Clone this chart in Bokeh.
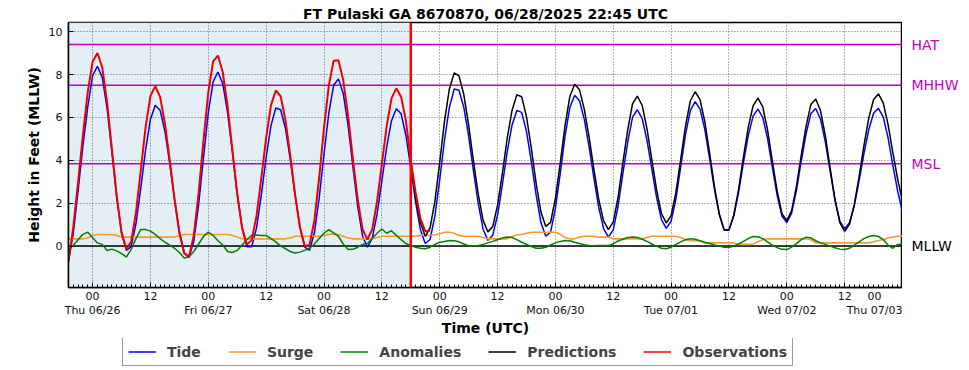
from bokeh.plotting import figure
from bokeh.layouts import row, column
from bokeh.models import (FixedTicker, Span, BoxAnnotation, Label, Legend, LegendItem, Range1d)
from bokeh.embed import file_html
from bokeh.resources import INLINE

# ---------------- data (hours from Thu 06/26 00:00 UTC, hourly) ----------------
START_HOUR = -5          # first sample: Wed 06/25 19:00 UTC
PRED_START = 66          # predictions start (forecast time, Sat 06/28 18:00)
NOW_HOUR = 66            # red vertical line
X_END = 168              # Thu 07/03 00:00
Y_MIN, Y_MAX = -1.93, 10.43

tide = [
    -0.65, 0.60, 2.60, 4.70, 6.50,
    7.95, 8.39, 7.87, 6.42, 4.39, 2.29, 0.61, -0.20, -0.02, 1.05, 2.72, 4.50,
    5.92, 6.57, 6.34, 5.35, 3.86, 2.17, 0.68, -0.30, -0.53, 0.24, 1.94, 4.12,
    6.22, 7.67, 8.12, 7.58, 6.23, 4.38, 2.45, 0.88, -0.03, -0.03, 0.85, 2.39,
    4.14, 5.62, 6.44, 6.36, 5.50, 4.04, 2.38, 0.90, -0.05, -0.20, 0.61, 2.25,
    4.30, 6.21, 7.50, 7.80, 7.11, 5.62, 3.69, 1.84, 0.46, -0.05, 0.36, 1.48,
    3.03, 4.62, 5.85, 6.41, 6.17, 5.16, 3.66, 2.05, 0.76, 0.12, 0.31, 1.40,
    3.09, 4.95, 6.46, 7.33, 7.27, 6.47, 5.14, 3.51, 1.98, 0.79, 0.27, 0.51,
    1.45, 2.87, 4.40, 5.64, 6.33, 6.24, 5.35, 3.95, 2.39, 1.10, 0.46, 0.65,
    1.75, 3.38, 5.13, 6.47, 7.04, 6.78, 5.90, 4.62, 3.15, 1.79, 0.82, 0.42,
    0.76, 1.86, 3.39, 4.85, 6.02, 6.36, 5.95, 4.93, 3.60, 2.26, 1.24, 0.83,
    1.16, 2.21, 3.71, 5.22, 6.33, 6.74, 6.39, 5.43, 4.07, 2.63, 1.47, 0.76,
    0.77, 1.40, 2.51, 3.88, 5.14, 6.06, 6.39, 6.02, 5.03, 3.68, 2.37, 1.40,
    1.10, 1.54, 2.60, 3.97, 5.24, 6.19, 6.42, 5.92, 4.85, 3.47, 2.15, 1.17,
    0.80, 1.09, 1.89, 3.05, 4.31, 5.43, 6.20, 6.43, 6.03, 5.06, 3.77, 2.57,
    1.59,
]

surge = [
    0.34, 0.34, 0.34, 0.34, 0.38,
    0.50, 0.54, 0.54, 0.54, 0.54, 0.50, 0.42, 0.42, 0.42, 0.42, 0.42, 0.42,
    0.42, 0.42, 0.42, 0.42, 0.42, 0.42, 0.50, 0.54, 0.54, 0.54, 0.54, 0.54,
    0.54, 0.54, 0.54, 0.54, 0.54, 0.50, 0.42, 0.34, 0.34, 0.34, 0.34, 0.34,
    0.34, 0.34, 0.34, 0.34, 0.34, 0.38, 0.46, 0.46, 0.46, 0.46, 0.46, 0.46,
    0.50, 0.54, 0.57, 0.54, 0.46, 0.38, 0.34, 0.34, 0.34, 0.34, 0.34, 0.40,
    0.46, 0.46, 0.46, 0.46, 0.46, 0.46, 0.46, 0.46, 0.50, 0.52, 0.52, 0.52,
    0.58, 0.65, 0.65, 0.60, 0.50, 0.46, 0.46, 0.46, 0.46, 0.40, 0.34, 0.34,
    0.34, 0.34, 0.34, 0.45, 0.52, 0.55, 0.60, 0.65, 0.65, 0.65, 0.65, 0.65,
    0.65, 0.55, 0.40, 0.34, 0.34, 0.42, 0.46, 0.46, 0.46, 0.42, 0.42, 0.42,
    0.34, 0.34, 0.34, 0.34, 0.34, 0.34, 0.34, 0.40, 0.46, 0.46, 0.46, 0.46,
    0.46, 0.46, 0.40, 0.30, 0.25, 0.25, 0.25, 0.15, 0.15, 0.15, 0.15, 0.15,
    0.15, 0.15, 0.08, 0.08, 0.08, 0.10, 0.20, 0.30, 0.34, 0.34, 0.34, 0.34,
    0.34, 0.34, 0.34, 0.34, 0.34, 0.30, 0.15, 0.15, 0.15, 0.15, 0.15, 0.15,
    0.15, 0.15, 0.15, 0.15, 0.15, 0.15, 0.20, 0.26, 0.30, 0.38, 0.42, 0.46,
    0.46,
]

anomalies = [
    -0.20, 0.05, 0.30, 0.55, 0.65,
    0.40, 0.15, 0.08, -0.20, -0.14, -0.22, -0.35, -0.51, -0.15, 0.35, 0.78, 0.77,
    0.70, 0.55, 0.35, 0.18, 0.05, -0.10, -0.30, -0.55, -0.50, -0.25, 0.10, 0.45,
    0.65, 0.50, 0.25, 0.05, -0.25, -0.30, -0.20, 0.05, 0.30, 0.50, 0.52, 0.50,
    0.50, 0.35, 0.20, 0.00, -0.12, -0.25, -0.32, -0.28, -0.20, -0.10, 0.10, 0.35,
    0.60, 0.77, 0.62, 0.45, 0.10, -0.16, -0.15, -0.05, 0.08, 0.12, 0.35, 0.60,
    0.80, 0.60, 0.72, 0.50, 0.30, 0.12, 0.03, -0.05, -0.10, -0.12, -0.05, 0.08,
    0.18, 0.22, 0.26, 0.25, 0.20, 0.10, 0.02, 0.00, 0.03, 0.08, 0.15, 0.22,
    0.30, 0.38, 0.43, 0.40, 0.30, 0.18, 0.08, -0.02, -0.10, -0.10, -0.05, 0.05,
    0.15, 0.22, 0.26, 0.25, 0.18, 0.12, 0.06, 0.03, 0.02, 0.03, 0.03, 0.03,
    0.10, 0.24, 0.32, 0.40, 0.43, 0.40, 0.32, 0.22, 0.10, 0.00, -0.10, -0.12,
    -0.05, 0.08, 0.20, 0.30, 0.34, 0.32, 0.25, 0.18, 0.12, 0.05, 0.00, -0.05,
    -0.06, 0.00, 0.10, 0.22, 0.35, 0.45, 0.44, 0.35, 0.20, 0.05, -0.07, -0.15,
    -0.16, -0.05, 0.12, 0.30, 0.42, 0.38, 0.25, 0.15, 0.08, 0.00, -0.08, -0.14,
    -0.16, -0.10, 0.05, 0.20, 0.35, 0.45, 0.50, 0.45, 0.30, 0.05, -0.10, 0.08,
    0.09,
]

observations = [
    -0.74, 0.90, 3.00, 5.20, 7.20,
    8.60, 9.01, 8.34, 6.72, 4.54, 2.33, 0.64, -0.13, 0.21, 1.57, 3.55, 5.56,
    7.01, 7.46, 6.96, 5.73, 4.01, 2.18, 0.62, -0.34, -0.49, 0.51, 2.48, 4.93,
    7.17, 8.62, 8.89, 8.11, 6.53, 4.48, 2.43, 0.86, 0.07, 0.28, 1.41, 3.18,
    5.06, 6.57, 7.26, 6.99, 5.88, 4.23, 2.41, 0.89, 0.01, 0.05, 1.20, 3.19,
    5.51, 7.50, 8.65, 8.67, 7.72, 6.08, 4.05, 2.16, 0.79, 0.31, 0.78, 2.07,
    3.83, 5.60, 6.89, 7.36, 6.96, 5.83, 4.00, 2.50, 1.30, 0.69, 0.72,
]

predictions = [
    3.96, 2.27, 1.10, 0.46, 0.85, 2.09,
    3.91, 5.83, 7.32, 8.08, 7.94, 7.07, 5.65, 3.97, 2.42, 1.20, 0.66, 0.91,
    1.91, 3.40, 5.02, 6.33, 7.06, 6.97, 6.04, 4.58, 2.94, 1.59, 0.92, 1.11,
    2.22, 3.87, 5.62, 6.98, 7.55, 7.29, 6.38, 5.07, 3.56, 2.17, 1.18, 0.77,
    1.13, 2.28, 3.89, 5.42, 6.64, 7.00, 6.56, 5.47, 4.04, 2.61, 1.52, 1.08,
    1.42, 2.51, 4.06, 5.62, 6.78, 7.20, 6.83, 5.79, 4.32, 2.76, 1.50, 0.74,
    0.74, 1.44, 2.65, 4.15, 5.54, 6.54, 6.90, 6.51, 5.43, 3.97, 2.56, 1.51,
    1.19, 1.66, 2.79, 4.25, 5.60, 6.61, 6.86, 6.31, 5.14, 3.63, 2.17, 1.09,
    0.69, 1.02, 1.93, 3.25, 4.69, 5.97, 6.84, 7.10, 6.68, 5.68, 4.36, 3.12,
    2.11,
]

datum_names = ["HAT", "MHHW", "MSL", "MLLW"]
datum_values = [9.40, 7.50, 3.84, 0.00]
datum_colors = ["#bf00bf", "#bf00bf", "#bf00bf", "#000000"]

x_tick_hours = [0, 12, 24, 36, 48, 60, 72, 84, 96, 108, 120, 132, 144, 156, 168]
x_tick_labels = ["00\nThu 06/26", "12", "00\nFri 06/27", "12", "00\nSat 06/28", "12",
                 "00\nSun 06/29", "12", "00\nMon 06/30", "12", "00\nTue 07/01", "12",
                 "00\nWed 07/02", "12", "00\nThu 07/03"]
y_ticks = [0, 2, 4, 6, 8, 10]

series_names = ["Tide", "Surge", "Anomalies", "Predictions", "Observations"]
series_colors = ["#0000ff", "#f39a30", "#008000", "#000000", "#ee0000"]

title_text = "FT Pulaski GA 8670870, 06/28/2025 22:45 UTC"

# ---------------- layout constants ----------------
FONT = "DejaVu Sans"
TOP, BOTTOM, LEFT = 22, 49, 68
MAIN_W, MAIN_H = 902, 338
RIGHT_W = 66
LEG_H = 31

hours_all = list(range(START_HOUR, START_HOUR + len(tide)))
obs_hours = list(range(START_HOUR, START_HOUR + len(observations)))
pred_hours = list(range(PRED_START, PRED_START + len(predictions)))


def style_title(fig, text):
    fig.title.text = text
    fig.title.align = "center"
    fig.title.text_font = FONT
    fig.title.text_font_size = "14px"
    fig.title.text_font_style = "bold"
    fig.title.text_color = "black"
    fig.title.standoff = 1


# ---------------- main figure ----------------
p = figure(width=MAIN_W, height=MAIN_H, output_backend="svg", toolbar_location=None,
           x_range=Range1d(START_HOUR, X_END), y_range=Range1d(Y_MIN, Y_MAX),
           min_border_left=LEFT, min_border_right=0, min_border_top=TOP,
           min_border_bottom=BOTTOM)
style_title(p, title_text)
p.outline_line_color = "black"
p.outline_line_width = 1.5
p.background_fill_color = "white"
p.border_fill_color = "white"

p.add_layout(BoxAnnotation(left=START_HOUR, right=NOW_HOUR, fill_color="#e4eef5",
                           fill_alpha=1.0, line_alpha=0, level="image"))

p.xaxis.ticker = FixedTicker(ticks=x_tick_hours, minor_ticks=hours_all)
p.xaxis.major_label_overrides = {h: lab for h, lab in zip(x_tick_hours, x_tick_labels)}
p.yaxis.ticker = FixedTicker(ticks=y_ticks, minor_ticks=[])
for ax in (p.xaxis[0], p.yaxis[0]):
    ax.major_tick_in = 5
    ax.major_tick_out = 0
    ax.minor_tick_in = 3
    ax.minor_tick_out = 0
    ax.axis_line_color = "black"
    ax.axis_line_width = 1.5
    ax.major_tick_line_color = "black"
    ax.minor_tick_line_color = "black"
    ax.major_label_text_font = FONT
    ax.major_label_text_font_size = "11px"
    ax.major_label_text_line_height = 1.1
    ax.major_label_text_color = "#111111"
    ax.axis_label_text_font = FONT
    ax.axis_label_text_font_size = "14px"
    ax.axis_label_text_font_style = "bold"
    ax.axis_label_text_color = "black"
p.xaxis.axis_label = "Time (UTC)"
p.yaxis.axis_label = "Height in Feet (MLLW)"
p.xaxis.major_label_standoff = 2
p.xaxis.axis_label_standoff = 0
p.yaxis.major_label_standoff = 6
p.yaxis.axis_label_standoff = 4

for g in (p.xgrid[0], p.ygrid[0]):
    g.grid_line_color = "#666666"
    g.grid_line_dash = "1 2"
    g.grid_line_width = 1

for v, c in zip(datum_values, datum_colors):
    p.add_layout(Span(location=v, dimension="width", line_color=c, line_width=1.5,
                      level="underlay"))

p.line(hours_all, tide, line_color=series_colors[0], line_width=1.5)
p.line(hours_all, surge, line_color=series_colors[1], line_width=1.6)
p.line(hours_all, anomalies, line_color=series_colors[2], line_width=1.5)
p.line(pred_hours, predictions, line_color=series_colors[3], line_width=1.5)
p.line(obs_hours, observations, line_color=series_colors[4], line_width=2)

p.add_layout(Span(location=NOW_HOUR, dimension="height", line_color="red", line_width=2.5))

# ---------------- right strip with datum labels (shares the y scale) ----------------
pr = figure(width=RIGHT_W, height=MAIN_H, output_backend="svg", toolbar_location=None,
            x_range=Range1d(0, 1), y_range=p.y_range,
            x_axis_location=None, y_axis_location=None,
            min_border_left=0, min_border_right=0, min_border_top=TOP,
            min_border_bottom=BOTTOM)
style_title(pr, " ")
pr.grid.visible = False
pr.outline_line_color = None
for name, v, c in zip(datum_names, datum_values, datum_colors):
    pr.add_layout(Label(x=0, y=v, x_offset=9, text=name, text_color=c,
                        text_font=FONT, text_font_size="14px", text_baseline="middle",
                        text_align="left"))

# ---------------- legend strip ----------------
pl = figure(width=MAIN_W + RIGHT_W, height=LEG_H, output_backend="svg",
            toolbar_location=None, x_range=Range1d(0, 1), y_range=Range1d(0, 1),
            x_axis_location=None, y_axis_location=None,
            min_border_left=0, min_border_right=0, min_border_top=0, min_border_bottom=0)
pl.grid.visible = False
pl.outline_line_color = None
items = []
nan = float("nan")
for name, c in zip(series_names, series_colors):
    # legend-only renderer: holds no visible point
    r = pl.line([nan, nan], [nan, nan], line_color=c, line_width=1.5)
    items.append(LegendItem(label=name, renderers=[r]))
legend = Legend(items=items, orientation="horizontal", location=(122, 3), margin=0,
                padding=5, spacing=27, glyph_width=28, glyph_height=17, label_height=17,
                label_standoff=11, label_text_font=FONT, label_text_font_size="14px",
                label_text_font_style="bold", border_line_color="#333333",
                border_line_width=1.5, background_fill_color="white",
                background_fill_alpha=1)
pl.add_layout(legend)

layout = column(row(p, pr, spacing=0), pl, spacing=0)
open("out.html", "w").write(file_html(layout, INLINE))
